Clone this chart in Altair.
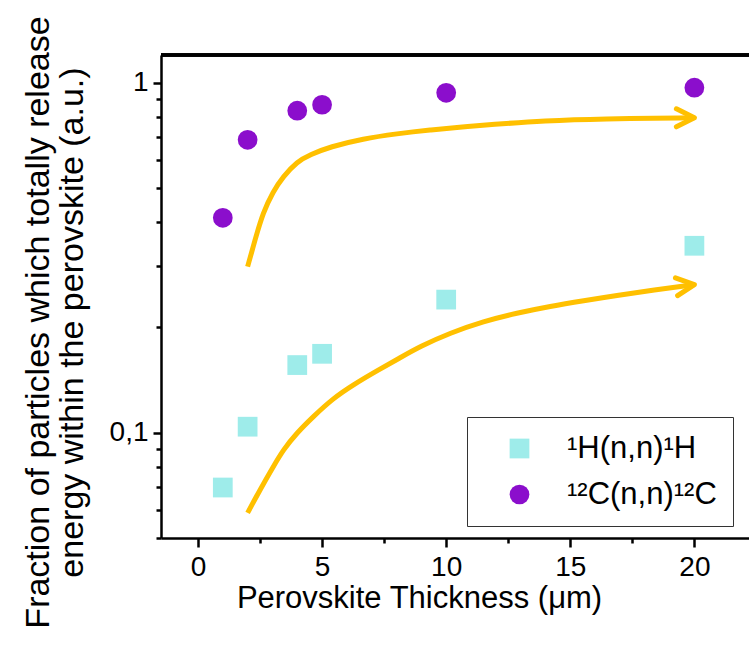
import altair as alt
import pandas as pd

# ---- data ----
thickness = [1, 2, 4, 5, 10, 20]
frac_H = [0.0697, 0.104, 0.156, 0.168, 0.240, 0.342]
frac_C = [0.411, 0.687, 0.832, 0.865, 0.936, 0.968]

series_labels = ["\u00b9H(n,n)\u00b9H", "\u00b9\u00b2C(n,n)\u00b9\u00b2C"]

upper_x = [2.0, 2.30, 2.62, 3.02, 3.43, 3.99, 4.52, 5.32, 6.65, 8.02, 9.35, 10.69, 11.77, 14.0, 16.2, 20.0]
upper_y = [0.298, 0.356, 0.425, 0.488, 0.539, 0.595, 0.623, 0.656, 0.692, 0.715, 0.733, 0.748, 0.759,
           0.779, 0.789, 0.794]
lower_x = [2.0, 2.50, 3.04, 3.44, 3.98, 4.65, 5.46, 6.26, 7.21, 8.15, 8.95, 10.16, 11.50, 12.85,
           14.19, 15.54, 16.88, 18.23, 19.71, 20.0]
lower_y = [0.059, 0.0687, 0.0801, 0.0894, 0.0998, 0.1113, 0.1256, 0.1371, 0.1503, 0.1638, 0.1764,
           0.1927, 0.208, 0.2198, 0.2296, 0.2383, 0.2468, 0.2550, 0.2630, 0.265]

x_ticks = [0, 2.5, 5, 7.5, 10, 12.5, 15, 17.5, 20]
y_ticks = [0.05, 0.06, 0.07, 0.08, 0.09, 0.1, 0.2, 0.3, 0.4, 0.5, 0.6, 0.7, 0.8, 0.9, 1.0]

ORANGE = "#FFC000"
CYAN = "#9EECEA"
PURPLE = "#8B0ECC"
FONT = "Liberation Sans"

W, H = 588, 483

# ---- tables ----
pts = pd.DataFrame({
    "x": thickness * 2,
    "y": frac_H + frac_C,
    "series": [series_labels[0]] * len(thickness) + [series_labels[1]] * len(thickness),
})
upper = pd.DataFrame({"x": upper_x, "y": upper_y})
lower = pd.DataFrame({"x": lower_x, "y": lower_y})
upper_tip = upper.tail(1)
lower_tip = lower.tail(1)

xaxis = alt.Axis(
    values=x_ticks,
    title="Perovskite Thickness (\u03bcm)",
    labelExpr="datum.value % 5 === 0 ? datum.label : ''",
    tickSize={"condition": {"test": "datum.value % 5 === 0", "value": 9}, "value": 5},
    labelFontSize=28, titleFontSize=31, labelPadding=6, titlePadding=2,
    titleX=258, titleAlign="center",
    grid=False, domainWidth=2.5, tickWidth=2.5,
    domainColor="black", tickColor="black", labelColor="black", titleColor="black",
    labelFont=FONT, titleFont=FONT, titleFontWeight="normal",
)
yaxis = alt.Axis(
    values=y_ticks,
    title=["Fraction of particles which totally release", "energy within the perovskite (a.u.)"],
    labelExpr="datum.value == 1 ? '1' : (abs(datum.value - 0.1) < 1e-9 ? '0,1' : '')",
    tickSize={"condition": {"test": "datum.value == 1 || abs(datum.value - 0.1) < 1e-9", "value": 8},
              "value": 5},
    labelFontSize=28, titleFontSize=34, labelPadding=5,
    titleX=-113, titleY=267, titleAngle=270, titleAlign="center", titleBaseline="alphabetic",
    titleLineHeight=34,
    grid=False, domainWidth=2.5, tickWidth=2.5,
    domainColor="black", tickColor="black", labelColor="black", titleColor="black",
    labelFont=FONT, titleFont=FONT, titleFontWeight="normal",
)

X = alt.X("x:Q", scale=alt.Scale(domain=[-1.49, 22.2], nice=False, zero=False), axis=xaxis)
Y = alt.Y("y:Q", scale=alt.Scale(type="log", domain=[0.05, 1.2], nice=False), axis=yaxis)

points = alt.Chart(pts).mark_point(filled=True, opacity=1, size=390).encode(
    x=X, y=Y,
    color=alt.Color("series:N", scale=alt.Scale(domain=series_labels, range=[CYAN, PURPLE]),
                    legend=alt.Legend(
                        title=None, orient="none", legendX=306, legendY=362,
                        strokeColor="#333333", fillColor="white", padding=16,
                        symbolOffset=21, labelOffset=32, rowPadding=14,
                        symbolSize=390, symbolStrokeWidth=0, symbolOpacity=1,
                        labelFontSize=31, labelFont=FONT, labelColor="black",
                        labelLimit=400)),
    shape=alt.Shape("series:N", scale=alt.Scale(domain=series_labels, range=["square", "circle"])),
)

line_up = alt.Chart(upper).mark_line(color=ORANGE, strokeWidth=5, interpolate="basis").encode(x=X, y=Y)
line_lo = alt.Chart(lower).mark_line(color=ORANGE, strokeWidth=5, interpolate="basis").encode(x=X, y=Y)

CHEVRON = "M-2,-1L0,0L-2,1"
head_up = alt.Chart(upper_tip).mark_point(
    shape=CHEVRON, filled=False, size=324, strokeWidth=5, color=ORANGE, opacity=1,
    strokeJoin="round", strokeCap="round", angle=0).encode(x=X, y=Y)
head_lo = alt.Chart(lower_tip).mark_point(
    shape=CHEVRON, filled=False, size=324, strokeWidth=5, color=ORANGE, opacity=1,
    strokeJoin="round", strokeCap="round", angle=353).encode(x=X, y=Y)

top_border = alt.Chart(pts).mark_rule(color="black", strokeWidth=2.5).encode(
    x=alt.value(0), x2=alt.value(W), y=alt.value(0))

chart = alt.layer(line_up, line_lo, head_up, head_lo, points, top_border).properties(
    width=W, height=H,
    autosize=alt.AutoSizeParams(type="none"),
    padding={"left": 161, "top": 55, "right": 0, "bottom": 112},
    background="white",
).configure_view(stroke=None)

chart.save("out.html", embed_options={"renderer": "svg", "actions": False})
